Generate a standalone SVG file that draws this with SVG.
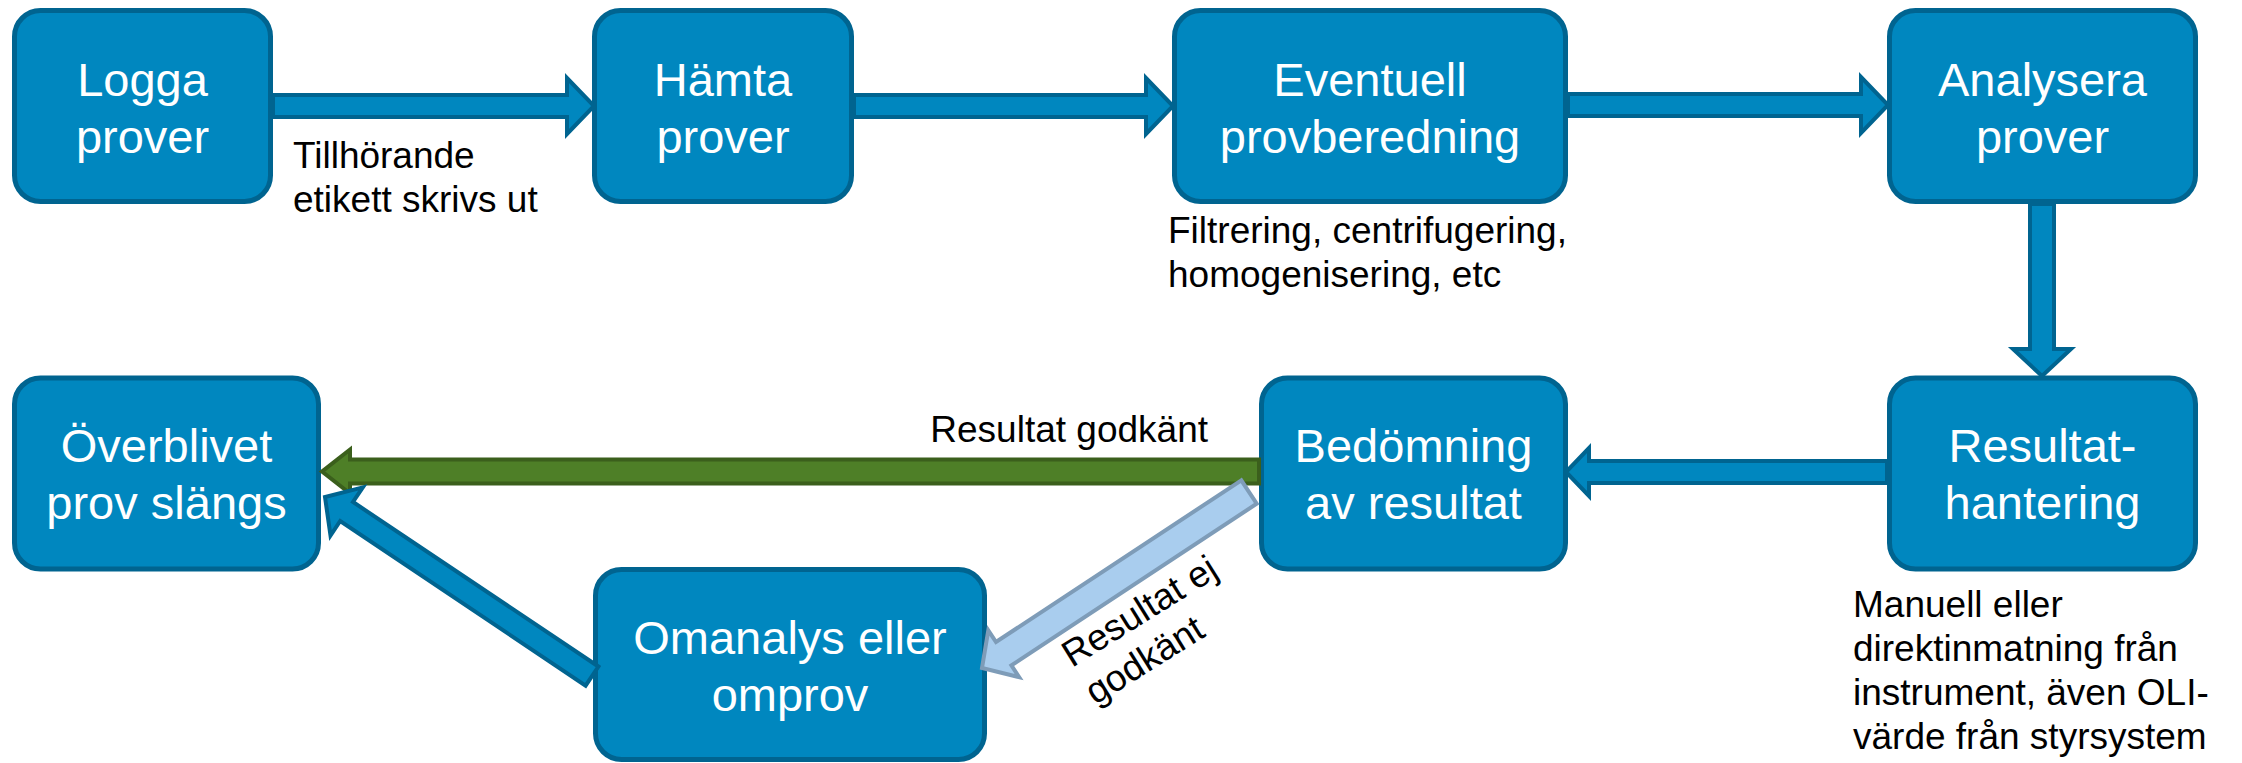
<svg xmlns="http://www.w3.org/2000/svg" width="2242" height="763" viewBox="0 0 2242 763">
<style>
.box{fill:#0087bf;stroke:#006490;stroke-width:5}
.bt{font-family:"Liberation Sans",Arial,sans-serif;font-size:47px;fill:#ffffff;text-anchor:middle}
.lbl{font-family:"Liberation Sans",Arial,sans-serif;font-size:37px;fill:#000000}
.ab{fill:#0087bf;stroke:#006490;stroke-width:4;stroke-linejoin:miter}
.ag{fill:#4e7f27;stroke:#3b5f1c;stroke-width:4}
.al{fill:#a9cdee;stroke:#7e9cb8;stroke-width:4}
</style>
<rect width="2242" height="763" fill="#ffffff"/>
<g id="nodes">
<g id="n-logga"><rect class="box" x="14.5" y="10.5" width="256" height="191" rx="26"/><text class="bt" x="142.5" y="96">Logga</text><text class="bt" x="142.5" y="152.5">prover</text></g>
<g id="n-hamta"><rect class="box" x="594.5" y="10.5" width="257" height="191" rx="26"/><text class="bt" x="723" y="96">Hämta</text><text class="bt" x="723" y="152.5">prover</text></g>
<g id="n-eventuell"><rect class="box" x="1174.5" y="10.5" width="391" height="191" rx="26"/><text class="bt" x="1370" y="96">Eventuell</text><text class="bt" x="1370" y="152.5">provberedning</text></g>
<g id="n-analysera"><rect class="box" x="1889.5" y="10.5" width="306" height="191" rx="26"/><text class="bt" x="2042.5" y="96">Analysera</text><text class="bt" x="2042.5" y="152.5">prover</text></g>
<g id="n-resultat"><rect class="box" x="1889.5" y="378" width="306" height="191" rx="26"/><text class="bt" x="2042.5" y="462">Resultat-</text><text class="bt" x="2042.5" y="519">hantering</text></g>
<g id="n-bedomning"><rect class="box" x="1261.5" y="378" width="304" height="191" rx="26"/><text class="bt" x="1413.5" y="462">Bedömning</text><text class="bt" x="1413.5" y="519">av resultat</text></g>
<g id="n-overblivet"><rect class="box" x="14.5" y="378" width="304" height="191" rx="26"/><text class="bt" x="166.5" y="462">Överblivet</text><text class="bt" x="166.5" y="519">prov slängs</text></g>
<g id="n-omanalys"><rect class="box" x="595.5" y="569.5" width="389" height="190" rx="26"/><text class="bt" x="790" y="654">Omanalys eller</text><text class="bt" x="790" y="710.5">omprov</text></g>
</g>
<g id="connectors">
<polygon class="ab" points="273,95 567,95 567,78 594,106 567,134 567,117 273,117"/>
<polygon class="ab" points="854,95 1146,95 1146,78 1173,106 1146,134 1146,117 854,117"/>
<polygon class="ab" points="1568,94 1861,94 1861,77 1888,105 1861,133 1861,116 1568,116"/>
<polygon class="ab" points="2030,204 2030,349 2013,349 2042,376 2071,349 2054,349 2054,204"/>
<polygon class="ab" points="1887,461 1589,461 1589,448 1566,472 1589,496 1589,483 1887,483"/>
<polygon class="ag" points="1259,459.5 350,459.5 350,449.5 322,471.5 350,493.5 350,483.5 1259,483.5"/>
<polygon class="al" points="1241.3,480.3 996,642 988.3,630.3 982,668 1019.1,677.1 1011.4,665.4 1256.7,503.7"/>
<polygon class="ab" points="598.4,666.5 353,502 362.8,487.4 325,497 330.5,535.6 340.2,521 585.6,685.6"/>
</g>
<g id="labels">
<text class="lbl" x="293" y="168">Tillhörande</text>
<text class="lbl" x="293" y="212">etikett skrivs ut</text>
<text class="lbl" x="1168" y="243">Filtrering, centrifugering,</text>
<text class="lbl" x="1168" y="287">homogenisering, etc</text>
<text class="lbl" x="1208" y="442" text-anchor="end">Resultat godkänt</text>
<g transform="translate(1072,668) rotate(-32)"><text class="lbl" x="0" y="0">Resultat ej</text><text class="lbl" x="0" y="44">godkänt</text></g>
<text class="lbl" x="1853" y="617">Manuell eller</text>
<text class="lbl" x="1853" y="661">direktinmatning från</text>
<text class="lbl" x="1853" y="705">instrument, även OLI-</text>
<text class="lbl" x="1853" y="749">värde från styrsystem</text>
</g>
</svg>
